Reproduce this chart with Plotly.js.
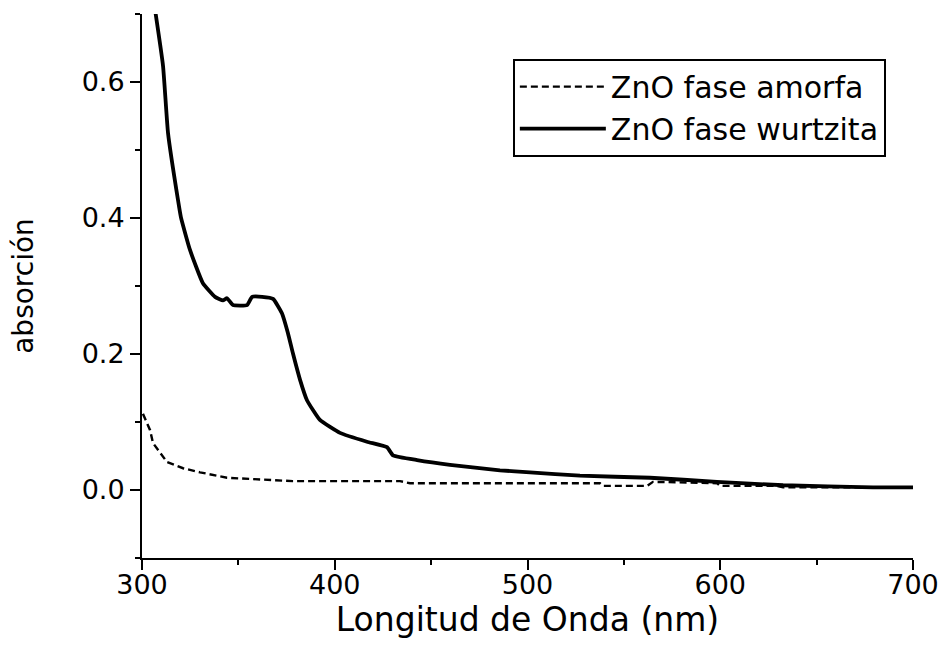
<!DOCTYPE html>
<html>
<head>
<meta charset="utf-8">
<script src="https://cdn.plot.ly/plotly-3.0.1.min.js"></script>
<style>html,body{margin:0;padding:0;background:#fff;}</style>
</head>
<body>
<div id="chart" style="width:943px;height:660px;"></div>
<script>
// ZnO fase wurtzita (solid)
const wurtzitaX = [305, 310.9, 313.5, 318.7, 320.2, 324.9, 331.6, 337.9, 342.0, 344.1, 347.2, 354.5, 357.1, 362.3, 368.0, 372.6, 375.7, 378.3, 382.0, 385.6, 392.3, 402.7, 416.7, 427.1, 430.2, 442.7, 459.8, 485.7, 501.3, 527.2, 563.6, 598.3, 632.6, 679.3, 700];
const wurtzitaY = [0.74, 0.624, 0.525, 0.426, 0.401, 0.353, 0.304, 0.284, 0.279, 0.282, 0.272, 0.272, 0.284, 0.284, 0.281, 0.260, 0.231, 0.201, 0.162, 0.132, 0.103, 0.084, 0.071, 0.063, 0.051, 0.044, 0.037, 0.029, 0.026, 0.021, 0.018, 0.012, 0.007, 0.004, 0.004];
// ZnO fase amorfa (dashed)
const amorfaX = [300.5, 304.2, 305.7, 313.0, 321.3, 330.1, 344.1, 356.0, 378.3, 433.9, 439.0, 485.7, 537.6, 539.2, 562.0, 565.1, 598.3, 599.9, 629.4, 632.6, 700];
const amorfaY = [0.112, 0.088, 0.069, 0.041, 0.032, 0.026, 0.018, 0.016, 0.013, 0.013, 0.010, 0.010, 0.010, 0.006, 0.006, 0.012, 0.010, 0.006, 0.006, 0.004, 0.004];
const seriesNames = ['ZnO fase amorfa', 'ZnO fase wurtzita'];
const xTicks = [300, 400, 500, 600, 700];
const yTicks = [0.0, 0.2, 0.4, 0.6];

const font = 'DejaVu Sans, Arial, sans-serif';
const traces = [
  {x: amorfaX, y: amorfaY, name: seriesNames[0], mode: 'lines', legendgroup: 'a',
   line: {color: '#000', width: 2.4, dash: '7px,4px'}},
  {x: wurtzitaX, y: wurtzitaY, name: seriesNames[1], mode: 'lines', legendgroup: 'b',
   line: {color: '#000', width: 3.8, shape: 'spline', smoothing: 0.4}}
];
const layout = {
  width: 943, height: 660,
  margin: {l: 142, r: 30, t: 14, b: 102},
  paper_bgcolor: '#fff', plot_bgcolor: '#fff',
  font: {family: font, color: '#000', size: 27},
  showlegend: true,
  legend: {x: 0.481, y: 0.918, xanchor: 'left', yanchor: 'top',
    bordercolor: '#000', borderwidth: 2, bgcolor: '#fff',
    font: {family: font, size: 30, color: '#000'},
    traceorder: 'grouped', tracegroupgap: 0, itemwidth: 86},
  xaxis: {range: [300, 700], tickvals: xTicks, ticktext: xTicks.map(String),
    showgrid: false, zeroline: false, showline: true, linecolor: '#000', linewidth: 2,
    ticks: 'outside', ticklen: 10, tickwidth: 2, tickcolor: '#000', ticklabelstandoff: -8,
    minor: {dtick: 50, tick0: 300, ticks: 'outside', ticklen: 5, tickwidth: 2, tickcolor: '#000'},
    tickfont: {family: font, size: 27},
    title: {text: 'Longitud de Onda (nm)', font: {family: font, size: 33}, standoff: 0}},
  yaxis: {range: [-0.1, 0.7], tickvals: yTicks, ticktext: yTicks.map(v => v.toFixed(1)),
    showgrid: false, zeroline: false, showline: true, linecolor: '#000', linewidth: 2,
    ticks: 'outside', ticklen: 10, tickwidth: 2, tickcolor: '#000',
    minor: {dtick: 0.1, tick0: 0, ticks: 'outside', ticklen: 5, tickwidth: 2, tickcolor: '#000'},
    tickfont: {family: font, size: 27},
    title: {text: 'absorción', font: {family: font, size: 28}, standoff: 40}}
};
Plotly.newPlot('chart', traces, layout, {displayModeBar: false, staticPlot: true});
</script>
</body>
</html>
